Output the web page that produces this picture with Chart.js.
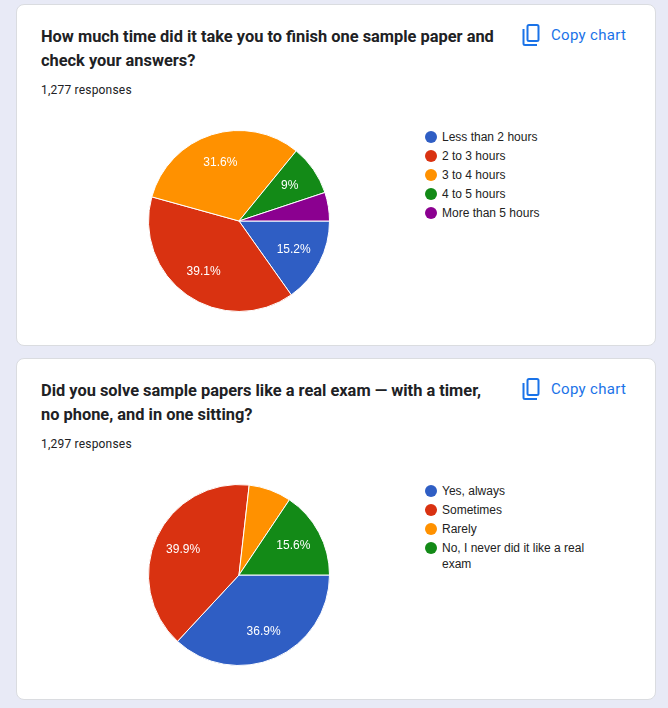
<!DOCTYPE html>
<html>
<head>
<meta charset="utf-8">
<script src="https://cdn.jsdelivr.net/npm/chart.js@4"></script>
<style>
    html, body { margin: 0; padding: 0; }
    body { width: 668px; height: 708px; background: #e8eaf6; overflow: hidden; position: relative; }
    .card { position: absolute; left: 16px; width: 638px; height: 340px; background: #fff; border: 1px solid #dadce0; border-radius: 8px; }
    .title { position: absolute; left: 24px; top: 20px; width: 460px; font: 700 16.4px/24px Roboto, sans-serif; color: #202124; }
    .count { position: absolute; left: 24px; top: 77px; font: 400 12px/16px Roboto, sans-serif; color: #202124; letter-spacing: .2px; }
    .copy { position: absolute; left: 503px; top: 18px; height: 24px; color: #1a73e8; font: 400 15px/24px Roboto, sans-serif; letter-spacing: .3px; }
    .copy svg { position: absolute; left: 0; top: 0; }
    .copy span { position: absolute; left: 31px; top: 0; white-space: nowrap; }
    canvas { position: absolute; }
    .legend { position: absolute; left: 408px; top: 124px; width: 180px; font: 12px/16px "Liberation Sans", Arial, sans-serif; color: #222; }
    .legend div { position: relative; padding-left: 17px; margin-bottom: 3px; }
    .legend i { position: absolute; left: 0; top: 2px; width: 12px; height: 12px; border-radius: 50%; }
</style>
</head>
<body>
<div id="charts"></div>
<script>
const titles1 = 'How much time did it take you to finish one sample paper and check your answers?';
const responses1 = '1,277 responses';
const labels1 = ['Less than 2 hours', '2 to 3 hours', '3 to 4 hours', '4 to 5 hours', 'More than 5 hours'];
const values1 = [15.2, 39.1, 31.6, 9, 5.1];

const titles2 = 'Did you solve sample papers like a real exam — with a timer, no phone, and in one sitting?';
const responses2 = '1,297 responses';
const labels2 = ['Yes, always', 'Sometimes', 'Rarely', 'No, I never did it like a real exam'];
const values2 = [36.9, 39.9, 7.6, 15.6];

const colors = ['#2f5ec4', '#d93211', '#ff9100', '#138a17', '#8b0090'];

// percent text on the slices, same spot google forms puts it
const sliceLabels = {
    id: 'sliceLabels',
    afterDatasetsDraw(chart) {
        const ctx = chart.ctx;
        const values = chart.data.datasets[0].data;
        ctx.save();
        ctx.fillStyle = '#fff';
        ctx.font = '12px "Liberation Sans", Arial, sans-serif';
        ctx.textAlign = 'center';
        ctx.textBaseline = 'middle';
        chart.getDatasetMeta(0).data.forEach(function(arc, i) {
            if (values[i] < 8) return;
            const mid = (arc.startAngle + arc.endAngle) / 2;
            const r = arc.outerRadius * 0.68;
            ctx.fillText(values[i] + '%', arc.x + Math.cos(mid) * r, arc.y + Math.sin(mid) * r);
        });
        ctx.restore();
    }
};

function addCard(top, title, responses, labels, values) {
    const card = document.createElement('div');
    card.className = 'card';
    card.style.top = top + 'px';
    let legendHtml = '';
    labels.forEach(function(label, i) {
        legendHtml += '<div><i style="background:' + colors[i] + '"></i>' + label + '</div>';
    });
    card.innerHTML = `
        <div class="title">${title}</div>
        <div class="count">${responses}</div>
        <div class="copy">
            <svg width="24" height="24" viewBox="0 0 24 24" fill="none" stroke="currentColor" stroke-width="2">
                <rect x="7.5" y="2" width="11" height="16" rx="1.5"></rect>
                <path d="M3.5 6v14.5a1.5 1.5 0 0 0 1.5 1.5h12"></path>
            </svg>
            <span>Copy chart</span>
        </div>
        <canvas width="182" height="182" style="left:131px;top:125px;width:182px;height:182px"></canvas>
        <div class="legend">${legendHtml}</div>`;
    document.getElementById('charts').appendChild(card);

    new Chart(card.querySelector('canvas').getContext('2d'), {
        type: 'pie',
        data: {
            labels: labels,
            datasets: [{
                data: values,
                backgroundColor: colors,
                borderColor: '#fff',
                borderWidth: 1
            }]
        },
        options: {
            responsive: false,
            animation: false,
            rotation: 90,
            plugins: {
                legend: { display: false },
                tooltip: { enabled: false }
            }
        },
        plugins: [sliceLabels]
    });
}

addCard(4, titles1, responses1, labels1, values1);
addCard(358, titles2, responses2, labels2, values2);
</script>
</body>
</html>
